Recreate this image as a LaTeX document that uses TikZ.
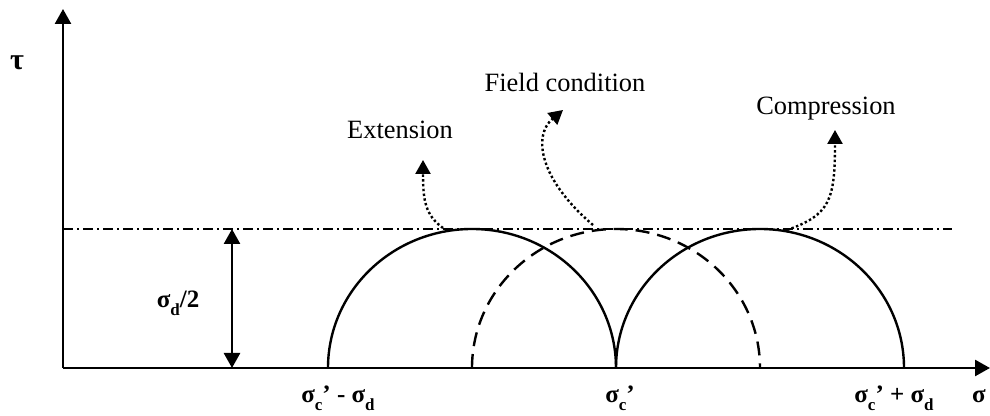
\documentclass[tikz,border=0pt]{standalone}
\usepackage{fontspec}
\setmainfont{Liberation Serif}
\usetikzlibrary{arrows.meta}
\newcommand{\lsub}[1]{\raisebox{-0.3em}{\fontsize{8.5}{9}\selectfont #1}}
\begin{document}
\begin{tikzpicture}[x=0.5pt,y=0.5pt,
  axis/.style={line width=1.3pt,-{Triangle[length=7.5pt,width=8pt]}},
  dim/.style={line width=1.3pt,{Triangle[length=7.5pt,width=8pt]}-{Triangle[length=7.5pt,width=8pt]}},
  curve/.style={line width=1.2pt},
  dcurve/.style={line width=1.2pt,dash pattern=on 7pt off 4pt},
  guide/.style={line width=0.8pt,dash pattern=on 5pt off 2pt on 1pt off 2pt},
  pointer/.style={line width=1.2pt,dash pattern=on 1.2pt off 1.2pt,-{Triangle[length=7pt,width=7.5pt]}},
  lbl/.style={font=\fontsize{13.2}{15}\selectfont, anchor=base, inner sep=0pt},
  blbl/.style={font=\fontsize{12.5}{14}\selectfont\bfseries, anchor=base, inner sep=0pt},
]
\useasboundingbox (0,0) rectangle (990,416);
% axes
\coordinate (O) at (63,48);
\coordinate (ytop) at (63,407);
\coordinate (xend) at (990,48);
\draw[axis] (O) -- (ytop);
\draw[axis] (O) -- (xend);
% guide line
\coordinate (g0) at (63,187);
\coordinate (g1) at (952,187);
\draw[guide] (g0) -- (g1);
% dimension arrow
\coordinate (m0) at (232,187);
\coordinate (m1) at (232,48);
\draw[dim] (m1) -- (m0);
% circles
\coordinate (a1) at (328,48);
\coordinate (a2) at (472,48);
\coordinate (a3) at (616,48);
\coordinate (a4) at (760,48);
\coordinate (a5) at (904,48);
\draw[curve] (a1) arc[start angle=180,end angle=0,x radius=144,y radius=139];
\draw[curve] (a3) arc[start angle=180,end angle=0,x radius=144,y radius=139];
\draw[dcurve] (a2) arc[start angle=180,end angle=0,x radius=144,y radius=139];
% labels
\node[blbl,font=\fontsize{15}{16}\selectfont\bfseries] (tau) at (17,346) {τ};
\node[blbl] (half) at (178,108) {σ\lsub{d}/2};
\node[blbl] (l1) at (338,13) {σ\lsub{c}’ - σ\lsub{d}};
\node[blbl] (l2) at (620,13) {σ\lsub{c}’};
\node[blbl] (l3) at (894,13) {σ\lsub{c}’ + σ\lsub{d}};
\node[blbl] (sig) at (979,13) {σ};
\node[lbl] (ext) at (400,277) {Extension};
\node[lbl] (fld) at (565,324) {Field condition};
\node[lbl] (cmp) at (826,301) {Compression};
% pointers
\coordinate (e0) at (443,188);
\coordinate (e1) at (423,256);
\coordinate (f0) at (593,191);
\coordinate (f1) at (563,306);
\coordinate (c0) at (787,186);
\coordinate (c1) at (835,286);
\draw[pointer] (e0) .. controls (425,201) and (423,216) .. (e1);
\draw[pointer] (f0) .. controls (540,236) and (532,280) .. (f1);
\draw[pointer] (c0) .. controls (830,201) and (835,216) .. (c1);
\end{tikzpicture}
\end{document}
